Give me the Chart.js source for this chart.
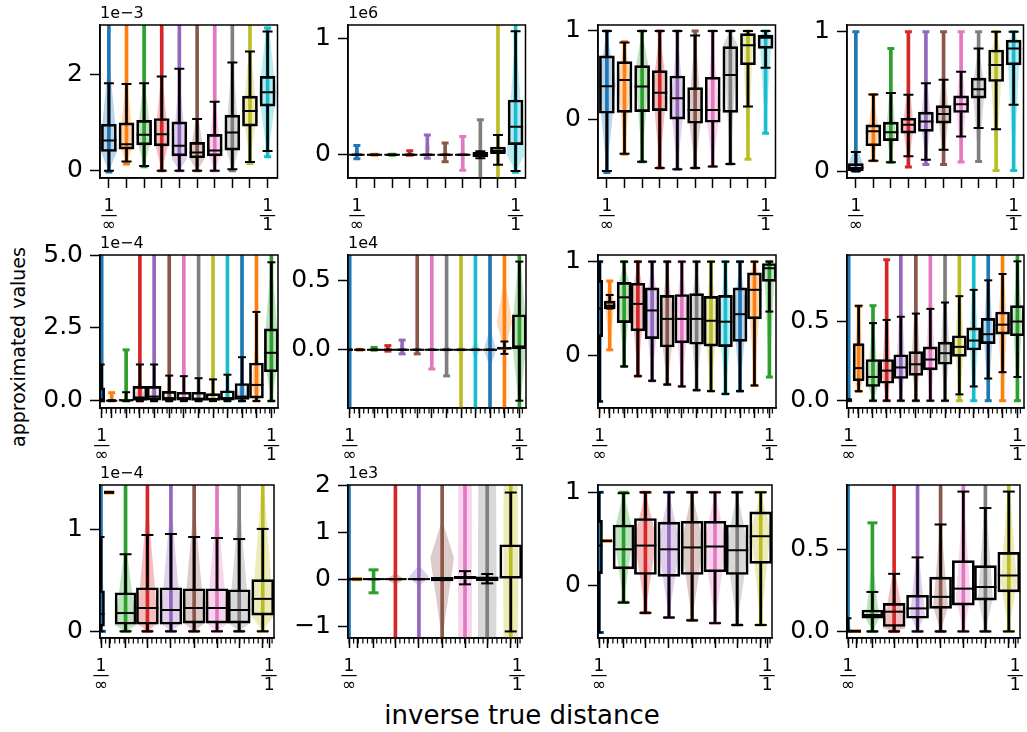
<!DOCTYPE html>
<html>
<head>
<meta charset="utf-8">
<script src="https://cdn.jsdelivr.net/npm/chart.js@4.4.0/dist/chart.umd.min.js"></script>
<style>
  body { margin: 0; background: #fff; width: 1027px; height: 732px; position: relative; overflow: hidden; font-family: 'DejaVu Sans'; }
  canvas { position: absolute; }
  .lbl { position: absolute; color: #000; white-space: nowrap; font-family: 'DejaVu Sans'; }
</style>
</head>
<body>
<div class="lbl" style="left:222px;width:600px;top:699px;line-height:32px;font-size:26px;text-align:center;">inverse true distance</div>
<div class="lbl" style="left:-132px;width:300px;top:336px;line-height:22px;font-size:19px;text-align:center;transform:rotate(-90deg);">approximated values</div>
<script>
var tab10 = ['#1f77b4', '#ff7f0e', '#2ca02c', '#d62728', '#9467bd', '#8c564b', '#e377c2', '#7f7f7f', '#bcbd22', '#17becf'];

// group positions on the inverse-distance axis, one list per row
var rowX = [
  [0, 0.111, 0.222, 0.333, 0.444, 0.556, 0.667, 0.778, 0.889, 1],
  [0, 0.059, 0.144, 0.225, 0.309, 0.398, 0.484, 0.571, 0.656, 0.741, 0.827, 0.912, 1],
  [0, 0.048, 0.146, 0.276, 0.416, 0.554, 0.69, 0.822, 0.962]
];
var rowXTicks = [rowX[0], rowX[1], rowX[2].concat([1])];
var rowXRange = [[-0.056, 1.0625], [-0.01, 1.039], [-0.006, 1.029]];

// ---- row 1 ----
var aLineLo = [-0.03, 0.14, 0.08, 0, 0, 0, 0, 0, 0.15, 0.29];
var aLineHi = [9, 9, 9, 9, 9, 9, 9, 9, 9, 2.98];
var aWhiskLo = [0, 0.19, 0.10, 0, 0, 0, 0, 0.03, 0.18, 0.41];
var aQ1 = [0.40, 0.45, 0.54, 0.52, 0.31, 0.27, 0.31, 0.43, 0.93, 1.35];
var aMed = [0.63, 0.55, 0.75, 0.76, 0.52, 0.38, 0.42, 0.80, 1.25, 1.64];
var aQ3 = [0.97, 1.00, 1.05, 1.09, 1.02, 0.59, 0.76, 1.16, 1.56, 1.97];
var aWhiskHi = [1.83, 1.81, 1.83, 1.97, 2.13, 1.08, 1.44, 2.26, 2.49, 2.91];
var aVioLo = [-0.03, 0.14, 0.08, 0, 0, 0, 0, 0, 0.15, 0.29];
var aVioPeak = [0.45, 0.55, 0.65, 0.6, 0.25, 0.25, 0.35, 0.5, 1.2, 1.6];
var aVioHi = [2.4, 2.0, 2.0, 2.1, 2.0, 1.3, 1.6, 2.5, 2.8, 3.2];
var aVioW = [1.0, 0.8, 0.8, 0.8, 0.85, 0.85, 0.75, 0.8, 0.75, 1.0];

var bLineLo = [-0.034, -0.004, -0.004, -0.005, -0.03, -0.06, -0.134, -0.5, -0.5, -0.15];
var bLineHi = [0.08, 0.004, 0.004, 0.034, 0.17, 0.10, 0.157, 0.30, 5, 5];
var bWhiskLo = [0, 0, 0, 0, 0, 0, 0, -0.03, -0.086, -0.14];
var bQ1 = [-0.004, -0.004, -0.004, -0.004, -0.004, -0.004, -0.004, -0.02, 0.009, 0.086];
var bMed = [0, 0, 0, 0, 0, 0, 0, 0, 0.035, 0.24];
var bQ3 = [0.004, 0.004, 0.004, 0.004, 0.004, 0.004, 0.004, 0.02, 0.066, 0.47];
var bWhiskHi = [0, 0, 0, 0, 0, 0, 0, 0.03, 0.17, 1.06];
var bVioLo = [-0.034, -0.004, -0.004, -0.005, -0.03, -0.06, -0.134, -0.1, -0.1, -0.15];
var bVioPeak = [0.02, 0, 0, 0.01, 0.05, 0.01, 0, 0, 0.04, 0];
var bVioHi = [0.08, 0.004, 0.004, 0.034, 0.17, 0.10, 0.157, 0.1, 0.15, 1.06];
var bVioW = [0.3, 0.2, 0.2, 0.3, 0.3, 0.3, 0.3, 0.3, 0.3, 1.0];

var cLineLo = [-0.59, -0.386, -0.47, -0.54, -0.554, -0.54, -0.524, -0.494, -0.44, -0.15];
var cLineHi = [1, 0.88, 1, 1, 1, 1, 1, 1, 1, 1];
var cWhiskLo = [-0.573, -0.38, -0.47, -0.54, -0.554, -0.54, -0.524, -0.494, 0.15, 0.588];
var cQ1 = [0.075, 0.086, 0.094, 0.105, 0.01, -0.037, -0.026, 0.086, 0.62, 0.805];
var cMed = [0.38, 0.45, 0.375, 0.307, 0.243, 0.112, 0.112, 0.506, 0.84, 0.925];
var cQ3 = [0.72, 0.655, 0.61, 0.554, 0.494, 0.363, 0.48, 0.824, 0.97, 0.955];
var cWhiskHi = [1.0, 0.87, 1.0, 1.0, 1.0, 0.95, 1.0, 1.0, 1.0, 1.0];
var cVioLo = [-0.59, -0.386, -0.47, -0.54, -0.554, -0.54, -0.524, -0.494, -0.44, -0.15];
var cVioPeak = [0.4, 0.45, 0.55, 0.35, 0.15, 0.05, 0.05, 0.85, 0.95, 0.95];
var cVioHi = [1, 0.88, 1, 1, 1, 1, 1, 1, 1, 1];
var cVioW = [1.0, 0.75, 0.8, 0.8, 0.75, 0.75, 0.75, 0.8, 0.6, 0.7];

var dLineLo = [0, 0.076, 0.064, 0.03, 0.048, 0.048, 0.067, 0.071, 0.005, 0.005];
var dLineHi = [1.0, 0.55, 0.88, 1.0, 1.0, 1.0, 1.0, 1.0, 1.0, 1.0];
var dWhiskLo = [0, 0.076, 0.064, 0.107, 0.083, 0.155, 0.25, 0.31, 0.302, 0.476];
var dQ1 = [0.005, 0.183, 0.22, 0.274, 0.286, 0.345, 0.421, 0.524, 0.643, 0.762];
var dMed = [0.024, 0.286, 0.28, 0.333, 0.357, 0.41, 0.48, 0.588, 0.762, 0.88];
var dQ3 = [0.055, 0.333, 0.352, 0.38, 0.424, 0.471, 0.54, 0.667, 0.869, 0.94];
var dWhiskHi = [0.138, 0.55, 0.56, 0.548, 0.63, 0.655, 0.714, 0.88, 1.0, 1.0];
var dVioLo = [0, 0.076, 0.064, 0.03, 0.048, 0.048, 0.067, 0.071, 0.005, 0.005];
var dVioPeak = [0.02, 0.28, 0.28, 0.32, 0.35, 0.4, 0.48, 0.6, 0.8, 0.9];
var dVioHi = [0.2, 0.55, 0.7, 0.7, 0.75, 0.8, 0.8, 0.9, 1.0, 1.0];
var dVioW = [1.0, 0.7, 0.55, 0.6, 0.6, 0.6, 0.6, 0.7, 0.7, 0.75];

// ---- row 2 ----
var eLineLo = [0, 0, 0, 0, 0, 0, 0, 0, 0, 0, 0, 0, 0];
var eLineHi = [20, 0.285, 1.75, 20, 20, 20, 20, 20, 20, 20, 20, 20, 20];
var eWhiskLo = [0, 0, 0, 0, 0, 0, 0, 0, 0, 0, 0, 0, 0];
var eQ1 = [0, 0, 0, 0.02, 0.03, 0.02, 0.03, 0.02, 0.02, 0.03, 0.05, 0.1, 1.0];
var eMed = [0.02, 0.01, 0.02, 0.12, 0.15, 0.1, 0.1, 0.08, 0.07, 0.1, 0.15, 0.55, 1.65];
var eQ3 = [0.45, 0.02, 0.06, 0.5, 0.5, 0.33, 0.3, 0.3, 0.25, 0.35, 0.6, 1.3, 2.47];
var eWhiskHi = [1.25, 0.03, 0.3, 1.25, 1.25, 0.87, 0.85, 0.78, 0.74, 0.9, 1.5, 3.05, 4.75];
var eVioLo = [0, 0, 0, 0, 0, 0, 0, 0, 0, 0, 0, 0, 0];
var eVioPeak = [0.1, 0, 0.05, 0.1, 0.1, 0.1, 0.1, 0.1, 0.1, 0.1, 0.2, 0.5, 1.6];
var eVioHi = [1.0, 0.285, 0.5, 1.0, 1.0, 0.8, 0.8, 0.8, 0.8, 0.8, 1.2, 2.5, 5.0];
var eVioW = [0.3, 0.2, 0.3, 0.6, 0.5, 0.4, 0.4, 0.4, 0.4, 0.4, 0.5, 0.6, 1.0];

var fLineLo = [-5, -0.003, -0.003, -0.01, -0.03, -0.03, -0.14, -0.19, -5, -5, -5, -5, -5];
var fLineHi = [5, 0.003, 0.017, 0.03, 0.07, 5, 5, 5, 5, 5, 5, 5, 5];
var fWhiskLo = [0, 0, 0, 0, 0, 0, 0, 0, 0, 0, 0, -0.03, -0.37];
var fQ1 = [-0.003, -0.003, -0.003, -0.003, -0.003, -0.003, -0.003, -0.003, -0.003, -0.003, -0.003, 0, 0.007];
var fMed = [0, 0, 0, 0, 0, 0, 0, 0, 0, 0, 0, 0.01, 0.024];
var fQ3 = [0.003, 0.003, 0.003, 0.003, 0.003, 0.003, 0.003, 0.003, 0.003, 0.003, 0.003, 0.02, 0.254];
var fWhiskHi = [0, 0, 0, 0, 0, 0, 0, 0, 0, 0, 0, 0.06, 0.64];
var fVioLo = [-0.1, -0.003, -0.003, -0.01, -0.03, -0.03, -0.05, -0.05, -0.06, -0.07, -0.13, -0.01, -0.45];
var fVioPeak = [0, 0, 0.005, 0.01, 0.02, 0, 0, 0, 0, 0, 0, 0.2, 0.1];
var fVioHi = [0.1, 0.003, 0.017, 0.03, 0.07, 0.03, 0.05, 0.05, 0.06, 0.07, 0.16, 0.52, 0.75];
var fVioW = [0.2, 0.2, 0.3, 0.3, 0.3, 0.2, 0.3, 0.5, 0.55, 0.6, 0.8, 1.0, 1.0];

var gLineLo = [-0.49, 0.06, -0.117, -0.22, -0.27, -0.31, -0.33, -0.37, -0.38, -0.41, -0.38, -0.32, -0.23];
var gLineHi = [1, 0.794, 1, 1, 1, 1, 1, 1, 1, 1, 1, 1, 1];
var gWhiskLo = [-0.49, 0.5, -0.117, -0.22, -0.27, -0.31, -0.33, -0.37, -0.38, -0.41, -0.38, -0.32, 0.468];
var gQ1 = [0.2, 0.5, 0.35, 0.262, 0.18, 0.09, 0.135, 0.12, 0.1, 0.095, 0.15, 0.39, 0.79];
var gMed = [0.5, 0.53, 0.62, 0.55, 0.48, 0.39, 0.39, 0.39, 0.37, 0.36, 0.44, 0.7, 0.93];
var gQ3 = [0.8, 0.58, 0.78, 0.77, 0.72, 0.64, 0.65, 0.66, 0.63, 0.64, 0.72, 0.88, 0.98];
var gWhiskHi = [1, 0.645, 1, 1, 1, 1, 1, 1, 1, 1, 1, 1, 1];
var gVioLo = [-0.49, 0.06, -0.117, -0.22, -0.27, -0.31, -0.33, -0.37, -0.38, -0.41, -0.38, -0.32, -0.23];
var gVioPeak = [0.5, 0.55, 0.7, 0.6, 0.5, 0.3, 0.4, 0.4, 0.35, 0.35, 0.45, 0.8, 0.95];
var gVioHi = [1, 0.794, 1, 1, 1, 1, 1, 1, 1, 1, 1, 1, 1];
var gVioW = [0.3, 0.6, 0.9, 0.9, 0.9, 0.9, 0.9, 0.9, 0.85, 0.85, 0.9, 0.9, 0.7];

var hLineLo = [0, 0.059, 0, 0, 0, 0, 0, 0, 0, 0, 0, 0, 0];
var hLineHi = [5, 0.595, 0.6, 0.89, 5, 5, 5, 5, 5, 5, 5, 5, 5];
var hWhiskLo = [0, 0.06, 0, 0, 0, 0, 0, 0, 0.04, 0.09, 0.14, 0.18, 0.15];
var hQ1 = [0, 0.126, 0.09, 0.11, 0.14, 0.16, 0.195, 0.23, 0.28, 0.32, 0.36, 0.42, 0.41];
var hMed = [0.003, 0.206, 0.15, 0.19, 0.21, 0.23, 0.26, 0.3, 0.34, 0.38, 0.42, 0.48, 0.5];
var hQ3 = [0.006, 0.36, 0.26, 0.26, 0.29, 0.31, 0.34, 0.37, 0.41, 0.46, 0.52, 0.56, 0.6];
var hWhiskHi = [0.01, 0.6, 0.49, 0.51, 0.53, 0.55, 0.58, 0.62, 0.66, 0.7, 0.76, 0.8, 0.88];
var hVioLo = [0, 0.059, 0, 0, 0, 0, 0, 0, 0, 0, 0, 0, 0];
var hVioPeak = [0, 0.15, 0.1, 0.15, 0.2, 0.22, 0.26, 0.3, 0.33, 0.37, 0.42, 0.47, 0.5];
var hVioHi = [0.05, 0.6, 0.6, 0.7, 0.75, 0.75, 0.8, 0.8, 0.85, 0.85, 0.9, 0.92, 0.92];
var hVioW = [0.3, 0.8, 0.7, 0.6, 0.6, 0.6, 0.6, 0.6, 0.6, 0.6, 0.6, 0.6, 0.6];

// ---- row 3 ----
var iLineLo = [0, 1.365, 0, 0, 0, 0, 0, 0, 0];
var iLineHi = [5, 1.375, 5, 5, 5, 5, 5, 5, 5];
var iWhiskLo = [0, 1.37, 0, 0, 0, 0, 0, 0, 0];
var iQ1 = [0.05, 1.366, 0.07, 0.07, 0.07, 0.08, 0.08, 0.08, 0.16];
var iMed = [0.17, 1.37, 0.18, 0.23, 0.21, 0.23, 0.23, 0.21, 0.32];
var iQ3 = [0.4, 1.374, 0.38, 0.43, 0.43, 0.42, 0.42, 0.41, 0.51];
var iWhiskHi = [0.93, 1.37, 0.76, 0.95, 0.96, 0.93, 0.92, 0.91, 1.01];
var iVioLo = [0, 1.365, 0, 0, 0, 0, 0, 0, 0];
var iVioPeak = [0.1, 1.37, 0.06, 0.08, 0.08, 0.08, 0.08, 0.08, 0.15];
var iVioHi = [1.0, 1.375, 0.9, 1.3, 1.3, 1.3, 1.3, 1.3, 1.6];
var iVioW = [0.3, 0.2, 0.85, 0.85, 0.85, 0.85, 0.85, 0.85, 0.9];

var jLineLo = [-5, -0.01, -0.29, -5, -5, -5, -5, -5, -5];
var jLineHi = [5, 0.01, 0.198, 5, 5, 5, 5, 5, 5];
var jWhiskLo = [0, 0, 0, 0, 0, 0, -0.11, -0.09, -1.11];
var jQ1 = [-0.01, -0.01, -0.01, -0.01, -0.01, -0.04, 0, -0.03, 0.02];
var jMed = [0, 0, 0, 0, 0, 0, 0.03, 0.02, 0.04];
var jQ3 = [0.01, 0.01, 0.01, 0.01, 0.01, 0.04, 0.06, 0.05, 0.73];
var jWhiskHi = [0, 0, 0, 0, 0, 0, 0.17, 0.11, 1.84];
var jVioLo = [-0.1, -0.01, -0.29, -0.12, -0.16, -1.29, -40, -40, -40];
var jVioPeak = [0, 0, 0, 0, 0.05, 0.45, 0, 0, 0];
var jVioHi = [0.1, 0.01, 0.198, 0.13, 0.3, 1.26, 40, 40, 40];
var jVioW = [0.2, 0.2, 0.2, 0.73, 0.8, 0.95, 0.57, 0.75, 0.6];

var kLineLo = [-0.5, 0.478, -0.177, -0.29, -0.34, -0.37, -0.4, -0.42, -0.42];
var kLineHi = [1.0, 0.482, 1, 1, 1, 1, 1, 1, 1];
var kWhiskLo = [-0.5, 0.48, -0.18, -0.29, -0.34, -0.37, -0.4, -0.42, -0.42];
var kQ1 = [0.13, 0.476, 0.18, 0.12, 0.1, 0.12, 0.15, 0.12, 0.24];
var kMed = [0.43, 0.48, 0.39, 0.43, 0.39, 0.41, 0.42, 0.38, 0.53];
var kQ3 = [0.7, 0.484, 0.65, 0.72, 0.68, 0.69, 0.69, 0.65, 0.79];
var kWhiskHi = [1.0, 0.48, 0.99, 1, 1, 1, 1, 1, 1];
var kVioLo = [-0.5, 0.478, -0.177, -0.29, -0.34, -0.37, -0.4, -0.42, -0.42];
var kVioPeak = [0.45, 0.48, 0.55, 0.5, 0.45, 0.45, 0.45, 0.4, 0.6];
var kVioHi = [1.0, 0.482, 1, 1, 1, 1, 1, 1, 1];
var kVioW = [0.2, 0.2, 0.8, 0.9, 0.9, 0.9, 0.9, 0.9, 0.8];

var lLineLo = [0, 0, 0, 0, 0, 0, 0, 0, 0];
var lLineHi = [5, 0.003, 0.66, 5, 5, 5, 5, 5, 5];
var lWhiskLo = [0, 0, 0, 0, 0, 0, 0, 0, 0];
var lQ1 = [0, 0, 0.08, 0.03, 0.08, 0.14, 0.16, 0.19, 0.24];
var lMed = [0.002, 0.001, 0.1, 0.12, 0.14, 0.21, 0.26, 0.27, 0.34];
var lQ3 = [0.01, 0.003, 0.13, 0.17, 0.22, 0.33, 0.43, 0.4, 0.48];
var lWhiskHi = [0.08, 0.003, 0.24, 0.35, 0.45, 0.65, 0.85, 0.75, 0.85];
var lVioLo = [0, 0, 0, 0, 0, 0, 0, 0, 0];
var lVioPeak = [0, 0, 0.08, 0.02, 0.1, 0.15, 0.2, 0.2, 0.3];
var lVioHi = [0.1, 0.003, 0.45, 0.4, 0.55, 0.7, 0.85, 0.85, 0.95];
var lVioW = [0.3, 0.2, 0.55, 0.9, 0.6, 0.6, 0.6, 0.6, 0.65];

// y axes: limits, ticks, labels, offset text
var yLims = [[-0.153, 3.045], [-0.2, 1.114], [-0.652, 1.067], [-0.048, 1.048],
             [-0.24, 5.0], [-0.423, 0.688], [-0.56, 1.071], [-0.046, 0.92],
             [-0.066, 1.443], [-1.25, 2.0], [-0.559, 1.078], [-0.04, 0.89]];
var yTicks = [[0, 2], [0, 1], [0, 1], [0, 1],
              [0, 2.5, 5], [0, 0.5], [0, 1], [0, 0.5],
              [0, 1], [-1, 0, 1, 2], [0, 1], [0, 0.5]];
var yTickLabels = [['0', '2'], ['0', '1'], ['0', '1'], ['0', '1'],
                   ['0.0', '2.5', '5.0'], ['0.0', '0.5'], ['0', '1'], ['0.0', '0.5'],
                   ['0', '1'], ['\u22121', '0', '1', '2'], ['0', '1'], ['0.0', '0.5']];
var offsetTexts = ['1e\u22123', '1e6', '', '', '1e\u22124', '1e4', '', '', '1e\u22124', '1e3', '', ''];

var panelData = [
  [aLineLo, aLineHi, aWhiskLo, aQ1, aMed, aQ3, aWhiskHi, aVioLo, aVioPeak, aVioHi, aVioW],
  [bLineLo, bLineHi, bWhiskLo, bQ1, bMed, bQ3, bWhiskHi, bVioLo, bVioPeak, bVioHi, bVioW],
  [cLineLo, cLineHi, cWhiskLo, cQ1, cMed, cQ3, cWhiskHi, cVioLo, cVioPeak, cVioHi, cVioW],
  [dLineLo, dLineHi, dWhiskLo, dQ1, dMed, dQ3, dWhiskHi, dVioLo, dVioPeak, dVioHi, dVioW],
  [eLineLo, eLineHi, eWhiskLo, eQ1, eMed, eQ3, eWhiskHi, eVioLo, eVioPeak, eVioHi, eVioW],
  [fLineLo, fLineHi, fWhiskLo, fQ1, fMed, fQ3, fWhiskHi, fVioLo, fVioPeak, fVioHi, fVioW],
  [gLineLo, gLineHi, gWhiskLo, gQ1, gMed, gQ3, gWhiskHi, gVioLo, gVioPeak, gVioHi, gVioW],
  [hLineLo, hLineHi, hWhiskLo, hQ1, hMed, hQ3, hWhiskHi, hVioLo, hVioPeak, hVioHi, hVioW],
  [iLineLo, iLineHi, iWhiskLo, iQ1, iMed, iQ3, iWhiskHi, iVioLo, iVioPeak, iVioHi, iVioW],
  [jLineLo, jLineHi, jWhiskLo, jQ1, jMed, jQ3, jWhiskHi, jVioLo, jVioPeak, jVioHi, jVioW],
  [kLineLo, kLineHi, kWhiskLo, kQ1, kMed, kQ3, kWhiskHi, kVioLo, kVioPeak, kVioHi, kVioW],
  [lLineLo, lLineHi, lWhiskLo, lQ1, lMed, lQ3, lWhiskHi, lVioLo, lVioPeak, lVioHi, lVioW]
];

// layout / style
var colLeft = [100, 348, 598, 847];
var plotW = [179, 179, 179, 178];
var rowTop = [25, 255, 485];
var plotH = 153;
var padL = 70, padT = 22, padR = 8, padB = 60;
var rowStyle = [
  { boxW: [15, 15, 15, 15, 15, 15, 15, 15, 15, 15], cap: 5, ccap: 3.5, vmax: 0.056, minor: 0 },
  { boxW: [6, 11, 14, 14, 14, 14, 14, 14, 14, 14, 14, 14, 14], cap: 4, ccap: 3.5, vmax: 0.046, minor: 0.0275 },
  { boxW: [7, 10, 21, 22, 22, 22, 22, 22, 22], cap: 6, ccap: 5, vmax: 0.074, minor: 0.0275 }
];

function rgba(hex, a) {
  var n = parseInt(hex.slice(1), 16);
  return 'rgba(' + (n >> 16) + ',' + ((n >> 8) & 255) + ',' + (n & 255) + ',' + a + ')';
}

var framePlugin = {
  id: 'frame',
  afterDraw: function (chart, args, opts) {
    var a = chart.chartArea, ctx = chart.ctx;
    ctx.save();
    ctx.strokeStyle = '#000';
    if (opts.minor) {
      var xs = chart.scales.x;
      ctx.lineWidth = 1.2;
      for (var v = 0; v <= xs.max + 1e-9; v += opts.minor) {
        var px = xs.getPixelForValue(v);
        if (px < a.left || px > a.right) continue;
        ctx.beginPath();
        ctx.moveTo(px, a.bottom);
        ctx.lineTo(px, a.bottom + 5.5);
        ctx.stroke();
      }
    }
    ctx.lineWidth = 1.5;
    ctx.strokeRect(a.left, a.top, a.right - a.left, a.bottom - a.top);
    if (opts.offset) {
      ctx.font = '16px "DejaVu Sans"';
      ctx.fillStyle = '#000';
      ctx.textAlign = 'left';
      ctx.textBaseline = 'bottom';
      ctx.fillText(opts.offset, a.left, a.top - 3);
    }
    ctx.restore();
  }
};

panelData.forEach(function (pd, k) {
  var row = Math.floor(k / 4), col = k % 4;
  var st = rowStyle[row], xs = rowX[row], n = xs.length;
  var lineLo = pd[0], lineHi = pd[1], whiskLo = pd[2], q1 = pd[3], med = pd[4], q3 = pd[5], whiskHi = pd[6];
  var vLo = pd[7], vPeak = pd[8], vHi = pd[9], vW = pd[10];
  var colors = xs.map(function (c, i) { return tab10[i % 10]; });
  var ds = [];

  // violin bodies
  for (var i = 0; i < n; i++) {
    var c = xs[i], w = vW[i] * st.vmax;
    ds.push({
      type: 'line',
      data: [{ x: c - w, y: vPeak[i] }, { x: c, y: vHi[i] }, { x: c + w, y: vPeak[i] }, { x: c, y: vLo[i] }, { x: c - w, y: vPeak[i] }, { x: c + w, y: vPeak[i] }],
      fill: 'shape', backgroundColor: rgba(colors[i], 0.3), borderWidth: 0, pointRadius: 0, tension: 0,
      order: 6, clip: 0
    });
  }
  // violin range bars + caps
  ds.push({
    type: 'bar', grouped: false, order: 5, clip: 0, barThickness: 3, borderWidth: 0,
    data: xs.map(function (c, i) { return { x: c, y: [lineLo[i], lineHi[i]] }; }),
    backgroundColor: colors
  });
  ds.push({
    type: 'scatter', order: 4, clip: 0, pointStyle: 'line', pointRadius: st.ccap, pointBorderWidth: 3,
    data: xs.map(function (c, i) { return { x: c, y: lineLo[i] }; }).concat(xs.map(function (c, i) { return { x: c, y: lineHi[i] }; })),
    pointBorderColor: colors.concat(colors)
  });
  // boxes
  for (var j = 0; j < n; j++) {
    ds.push({
      type: 'bar', grouped: false, order: 3, clip: 0, barThickness: st.boxW[j],
      data: [{ x: xs[j], y: [q1[j], q3[j]] }],
      backgroundColor: 'rgba(0,0,0,0)', borderColor: '#000', borderWidth: 2, borderSkipped: false
    });
  }
  // whiskers
  ds.push({
    type: 'bar', grouped: false, order: 2, clip: 0, barThickness: 2, borderWidth: 0, backgroundColor: '#000',
    data: xs.map(function (c, i) { return { x: c, y: [whiskLo[i], q1[i]] }; }).concat(xs.map(function (c, i) { return { x: c, y: [q3[i], whiskHi[i]] }; }))
  });
  var capR = st.boxW.map(function (b) { return Math.min(st.cap, b / 2); });
  ds.push({
    type: 'scatter', order: 1, clip: 0, pointStyle: 'line', pointBorderWidth: 2, pointBorderColor: '#000',
    pointRadius: capR.concat(capR),
    data: xs.map(function (c, i) { return { x: c, y: whiskLo[i] }; }).concat(xs.map(function (c, i) { return { x: c, y: whiskHi[i] }; }))
  });
  // medians
  ds.push({
    type: 'scatter', order: 0, clip: 0, pointStyle: 'line', pointBorderWidth: 2, pointBorderColor: '#000',
    pointRadius: st.boxW.map(function (b) { return b / 2; }),
    data: xs.map(function (c, i) { return { x: c, y: med[i] }; })
  });

  var cv = document.createElement('canvas');
  var cw = padL + plotW[col] + padR, ch = padT + plotH + padB;
  cv.width = cw; cv.height = ch;
  cv.style.width = cw + 'px'; cv.style.height = ch + 'px';
  cv.style.left = (colLeft[col] - padL) + 'px';
  cv.style.top = (rowTop[row] - padT) + 'px';
  document.body.appendChild(cv);

  var majors = rowXTicks[row], yt = yTicks[k], ytl = yTickLabels[k];
  new Chart(cv, {
    type: 'bar',
    data: { datasets: ds },
    plugins: [framePlugin],
    options: {
      responsive: false, animation: false, events: [], devicePixelRatio: 1,
      layout: { padding: { left: 0, top: padT, right: padR, bottom: 0 } },
      plugins: { legend: { display: false }, tooltip: { enabled: false }, frame: { offset: offsetTexts[k], minor: st.minor } },
      scales: {
        x: {
          type: 'linear', min: rowXRange[row][0], max: rowXRange[row][1], offset: false,
          afterBuildTicks: function (s) { s.ticks = majors.map(function (v) { return { value: v }; }); },
          afterFit: function (s) { s.height = padB; s.paddingLeft = 0; s.paddingRight = 0; },
          ticks: {
            autoSkip: false, maxRotation: 0, minRotation: 0, color: '#000', padding: 14,
            font: { family: 'DejaVu Sans', size: 17, lineHeight: 0.55 },
            callback: function (v) { return v === 0 ? ['1', '\u2014', '\u221e'] : (v === 1 ? ['1', '\u2014', '1'] : ''); }
          },
          grid: { drawOnChartArea: false, offset: false, tickLength: 10, tickWidth: 1.5, tickColor: '#000' },
          border: { color: '#000', width: 1.5 }
        },
        y: {
          type: 'linear', min: yLims[k][0], max: yLims[k][1],
          afterBuildTicks: function (s) { s.ticks = yt.map(function (v) { return { value: v }; }); },
          afterFit: function (s) { s.width = padL; s.paddingTop = 0; s.paddingBottom = 0; },
          ticks: {
            color: '#000', padding: 7, font: { family: 'DejaVu Sans', size: 25 },
            callback: function (v, idx) { return ytl[idx]; }
          },
          grid: { drawOnChartArea: false, tickLength: 10, tickWidth: 1.5, tickColor: '#000' },
          border: { color: '#000', width: 1.5 }
        }
      }
    }
  });
});
</script>
</body>
</html>
